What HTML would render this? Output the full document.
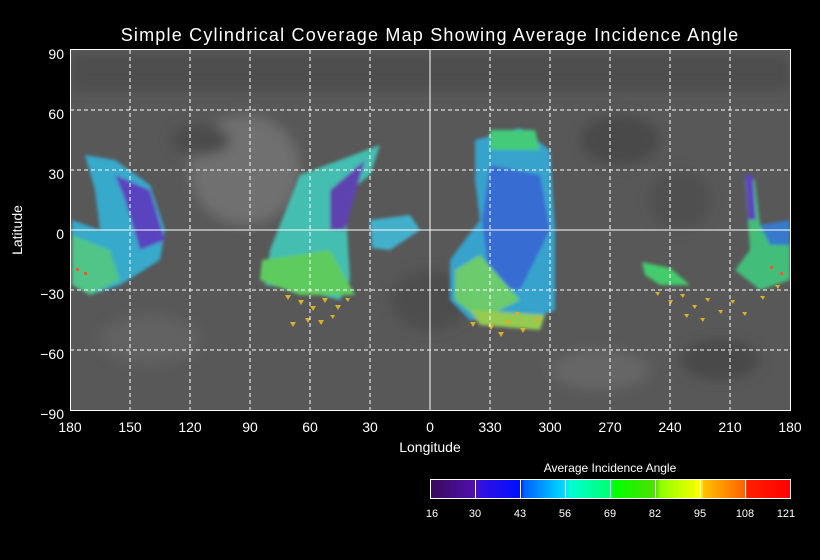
<!DOCTYPE html>
<html><head><style>
html,body{margin:0;background:#000;width:820px;height:560px;overflow:hidden}
svg{display:block}
svg text{font-family:"Liberation Sans",sans-serif;fill:#fff}
</style></head><body>
<svg width="820" height="560" viewBox="0 0 820 560">
<defs>
<filter id="b"><feGaussianBlur stdDeviation="6"/></filter>
<filter id="s"><feGaussianBlur stdDeviation="1.5"/></filter>
<clipPath id="c"><rect x="70" y="49" width="720" height="361"/></clipPath>
<linearGradient id="cb" x1="0" x2="1">
<stop offset="0" stop-color="#3a0a5a"/><stop offset="0.125" stop-color="#5010b0"/>
<stop offset="0.14" stop-color="#3010e0"/><stop offset="0.25" stop-color="#0010ff"/>
<stop offset="0.26" stop-color="#0060ff"/><stop offset="0.375" stop-color="#00e0ff"/>
<stop offset="0.39" stop-color="#00ffd0"/><stop offset="0.5" stop-color="#00ff70"/>
<stop offset="0.51" stop-color="#00ff00"/><stop offset="0.625" stop-color="#50e000"/>
<stop offset="0.64" stop-color="#90ff00"/><stop offset="0.75" stop-color="#ffff00"/>
<stop offset="0.76" stop-color="#ffc000"/><stop offset="0.875" stop-color="#ff6000"/>
<stop offset="0.88" stop-color="#ff2000"/><stop offset="1" stop-color="#ff0000"/>
</linearGradient>
</defs>
<text x="430" y="41" font-size="18" text-anchor="middle" letter-spacing="1.2">Simple Cylindrical Coverage Map Showing Average Incidence Angle</text>
<g clip-path="url(#c)">
<rect x="70" y="49" width="720" height="361" fill="#585858"/>
<g filter="url(#b)">
<rect x="70" y="55" width="720" height="35" fill="#4e4e4e"/>
<ellipse cx="245" cy="170" rx="55" ry="55" fill="#707070"/>
<ellipse cx="620" cy="140" rx="40" ry="25" fill="#484848"/>
<ellipse cx="150" cy="340" rx="50" ry="25" fill="#626262"/>
<ellipse cx="600" cy="370" rx="50" ry="20" fill="#666"/>
<ellipse cx="430" cy="300" rx="40" ry="30" fill="#4e4e4e"/>
<ellipse cx="720" cy="360" rx="40" ry="20" fill="#4a4a4a"/>
<ellipse cx="200" cy="140" rx="30" ry="15" fill="#4c4c4c"/>
<ellipse cx="680" cy="200" rx="30" ry="30" fill="#505050"/>
</g>
<g opacity="0.85" filter="url(#s)">
<path d="M85 155 L115 160 L150 185 L165 230 L160 260 L120 285 L90 295 L72 280 L72 220 L100 230 L95 190 Z" fill="#30b8e0"/>
<path d="M115 175 L150 190 L165 240 L140 250 L125 200 Z" fill="#5a40d0"/>
<path d="M72 235 L110 250 L120 280 L90 295 L72 285 Z" fill="#50d890"/>
<path d="M300 175 L380 145 L370 175 L345 195 L350 280 L340 300 L300 290 L265 285 L270 250 Z" fill="#40d0c0"/>
<path d="M330 190 L365 160 L345 230 L330 230 Z" fill="#6040c0"/>
<path d="M262 260 L330 250 L355 295 L300 295 L260 280 Z" fill="#60e060"/>
<path d="M370 220 L410 215 L420 230 L390 250 L372 248 Z" fill="#40c0e0"/>
<path d="M475 140 L520 128 L550 150 L555 230 L555 310 L530 320 L470 320 L450 300 L450 260 L480 220 L475 180 Z" fill="#30b0e0"/>
<path d="M490 165 L540 175 L550 230 L520 290 L490 285 L482 220 Z" fill="#3070e8"/>
<path d="M490 130 L535 130 L540 150 L490 150 Z" fill="#40e080"/>
<path d="M455 270 L480 255 L520 300 L480 320 L455 300 Z" fill="#70e070"/>
<path d="M470 310 L545 315 L540 330 L480 325 Z" fill="#a0e050"/>
<path d="M642 262 L670 268 L690 285 L660 285 L645 275 Z" fill="#40e070"/>
<path d="M745 180 L755 180 L760 225 L790 225 L790 280 L760 290 L735 270 L750 250 Z" fill="#40d080"/>
<path d="M745 175 L753 175 L756 220 L748 220 Z" fill="#6040d0"/>
<path d="M760 225 L790 220 L790 245 L770 245 Z" fill="#3080e0"/>
</g>
<g fill="#d8b030">
<path d="M285 295l6 0-3 5zM298 300l6 0-3 5zM310 306l6 0-3 5zM322 298l6 0-3 5zM335 305l6 0-3 5zM305 318l6 0-3 5zM318 320l6 0-3 5zM290 322l6 0-3 5zM330 315l5 0-2 4zM345 298l5 0-2 4z"/>
<path d="M470 322l6 0-3 5zM488 325l6 0-3 5zM505 320l6 0-3 5zM520 328l6 0-3 5zM535 318l6 0-3 5zM498 332l6 0-3 5zM515 312l5 0-2 4z"/>
<path d="M655 292l5 0-2 4zM668 300l5 0-2 4zM680 294l5 0-2 4zM692 305l5 0-2 4zM705 298l5 0-2 4zM718 310l5 0-2 4zM730 300l5 0-2 4zM742 312l5 0-2 4zM700 318l5 0-2 4zM760 296l5 0-2 4zM775 285l5 0-2 4zM684 314l5 0-2 4z"/>
</g>
<g fill="#ff5030"><path d="M76 268h3v3h-3zM84 272h3v3h-3zM770 266h3v3h-3zM780 272h3v3h-3z"/></g>
</g>
<g stroke="#fff" stroke-width="1" stroke-dasharray="4 3" fill="none">
<path d="M130 50V410M190 50V410M250 50V410M310 50V410M370 50V410M490 50V410M550 50V410M610 50V410M670 50V410M730 50V410"/>
<path d="M70 110H790M70 170H790M70 290H790M70 350H790"/>
</g>
<g stroke="#fff" stroke-width="1" fill="none">
<path d="M430 50V410M70 230H790"/>
<rect x="70.5" y="49.5" width="720" height="361"/>
</g>
<g font-size="14" text-anchor="end">
<text x="64" y="59">90</text><text x="64" y="119">60</text><text x="64" y="179">30</text>
<text x="64" y="239">0</text><text x="64" y="299">−30</text><text x="64" y="359">−60</text><text x="64" y="419">−90</text>
</g>
<g font-size="14" text-anchor="middle">
<text x="70" y="432">180</text><text x="130" y="432">150</text><text x="190" y="432">120</text>
<text x="250" y="432">90</text><text x="310" y="432">60</text><text x="370" y="432">30</text>
<text x="430" y="432">0</text><text x="490" y="432">330</text><text x="550" y="432">300</text>
<text x="610" y="432">270</text><text x="670" y="432">240</text><text x="730" y="432">210</text><text x="790" y="432">180</text>
</g>
<text x="430" y="452" font-size="14" text-anchor="middle">Longitude</text>
<text transform="translate(22,230) rotate(-90)" font-size="14" text-anchor="middle">Latitude</text>
<text x="610" y="472" font-size="12" text-anchor="middle">Average Incidence Angle</text>
<rect x="430.5" y="479.5" width="360" height="19" fill="url(#cb)" stroke="#fff"/>
<path d="M475.5 480V499M520.5 480V499M565.5 480V499M610.5 480V499M655.5 480V499M700.5 480V499M745.5 480V499" stroke="#fff"/>
<g font-size="11" text-anchor="middle">
<text x="432" y="517">16</text><text x="475" y="517">30</text><text x="520" y="517">43</text>
<text x="565" y="517">56</text><text x="610" y="517">69</text><text x="655" y="517">82</text>
<text x="700" y="517">95</text><text x="745" y="517">108</text><text x="786" y="517">121</text>
</g>
</svg>
</body></html>
